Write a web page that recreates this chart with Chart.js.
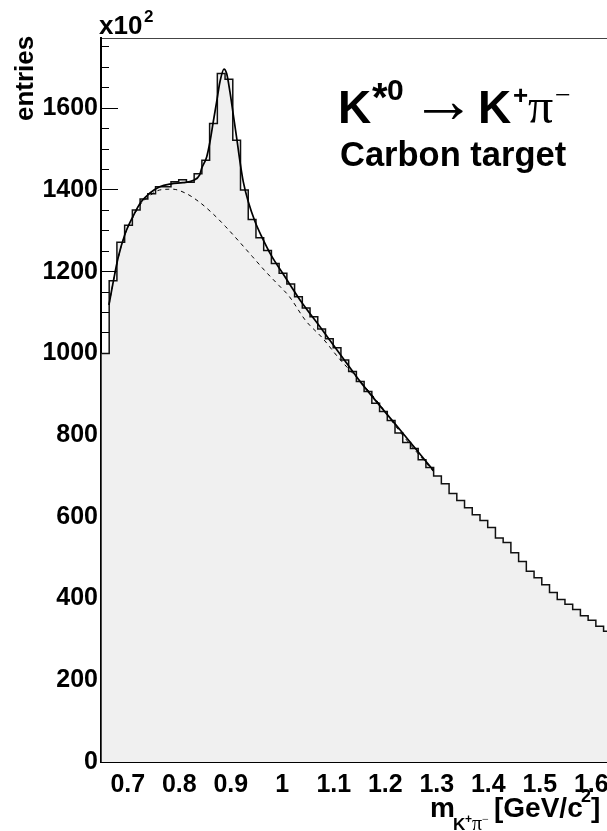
<!DOCTYPE html>
<html><head><meta charset="utf-8">
<script src="https://cdn.jsdelivr.net/npm/chart.js@4.4.1/dist/chart.umd.min.js"></script>
<style>
html,body{margin:0;padding:0;overflow:hidden;background:#fff;width:607px;height:831px}
#wrap{position:relative;width:690px;height:831px}
canvas{display:block}
</style></head>
<body><div id="wrap"><canvas id="c" width="690" height="831"></canvas></div>
<script>
// ---- data (entries in units of 10^2) ----
const binLow = 0.6489;      // lower edge of first bin [GeV/c^2]
const binWidth = 0.015;     // bin width [GeV/c^2]
const counts = [1000,1178,1272,1314,1351,1378,1391,1408,1408,1420,1425,1419,1440,1473,1563,1685,1671,1522,1400,1328,1283,1252,1220,1196,1170,1139,1111,1090,1060,1036,1014,984,956,931,907,878,858,836,805,782,767,740,721,700,681,657,640,622,605,591,574,548,537,512,491,467,451,434,415,398,386,373,358,347,332,320];

// full fit (signal + background)
const fitX = [0.6635,0.6713,0.681,0.694,0.710,0.726,0.7425,0.762,0.7845,0.807,0.8266,0.8396,0.8435,0.8532,0.8596,0.866,0.8726,0.879,0.8868,0.892,0.8984,0.9049,0.9115,0.9179,0.9243,0.934,0.947,0.96,0.9794,1.0014,1.0344,1.0764,1.1315,1.1514,1.2286,1.2932];
const fitY = [1119,1172,1233,1290,1335,1371,1392,1408,1415,1418,1423,1437,1453,1481,1518,1567,1616,1665,1696,1685,1640,1584,1527,1469,1420,1371,1323,1286,1238,1195,1131,1060,965,931,813,714];

// background only (dashed)
const bgX = [0.6635,0.6713,0.681,0.694,0.710,0.726,0.7425,0.762,0.7866,0.8125,0.8384,0.8643,0.8902,0.9161,0.942,0.9679,0.9938,1.0132,1.0456,1.0778,1.1101,1.1392,1.1813,1.2286,1.2932];
const bgY = [1119,1172,1232,1289,1333,1367,1386,1400,1402,1392,1371,1343,1310,1274,1237,1200,1166,1140,1080,1038,988,948,888,808,711];

const xTicks = [0.7,0.8,0.9,1.0,1.1,1.2,1.3,1.4,1.5,1.6,1.7];
const xTickLabels = ['0.7','0.8','0.9','1','1.1','1.2','1.3','1.4','1.5','1.6','1.7'];
const yTicks = [0,200,400,600,800,1000,1200,1400,1600];
const yTickLabels = ['0','200','400','600','800','1000','1200','1400','1600'];

const xMin = 0.648, xMax = 1.7917, yMax = 1772;

// ---- build datasets ----
const histPts = counts.map((c,i)=>({x: binLow + i*binWidth, y: c}));
histPts.push({x: binLow + counts.length*binWidth, y: counts[counts.length-1]});
const fitPts = fitX.map((x,i)=>({x, y: fitY[i]}));
const bgPts = bgX.map((x,i)=>({x, y: bgY[i]}));

const FONT = "'Liberation Sans', Arial, Helvetica, sans-serif";
const SERIF = "'Liberation Serif', 'DejaVu Serif', serif";

const textPlugin = {
  id: 'texts',
  afterDraw(chart) {
    const ctx = chart.ctx;
    ctx.save();
    ctx.fillStyle = '#000';
    ctx.textAlign = 'left';
    ctx.textBaseline = 'alphabetic';
    // x10^2
    ctx.font = "bold 26px " + FONT;
    ctx.fillText('x10', 99, 34);
    ctx.font = "bold 17px " + FONT;
    ctx.fillText('2', 144, 22);
    // entries (rotated)
    ctx.save();
    ctx.translate(33, 121);
    ctx.rotate(-Math.PI/2);
    ctx.font = "bold 26px " + FONT;
    ctx.fillText('entries', 0, 0);
    ctx.restore();
    // K*0 -> K+ pi-
    ctx.font = "bold 46px " + FONT;
    ctx.fillText('K', 338, 123);
    ctx.font = "bold 40px " + FONT;
    ctx.fillText('*', 372, 111);
    ctx.font = "bold 30px " + FONT;
    ctx.fillText('0', 387, 100);
    ctx.font = "65px " + SERIF;
    ctx.fillText('\u2192', 411, 122);
    ctx.font = "bold 46px " + FONT;
    ctx.fillText('K', 478, 123);
    ctx.font = "bold 26px " + FONT;
    ctx.fillText('+', 513, 104);
    ctx.font = "50px " + SERIF;
    ctx.fillText('\u03C0', 528, 123);
    ctx.font = "28px " + SERIF;
    ctx.fillText('\u2212', 555, 104);
    // Carbon target
    ctx.font = "bold 34.5px " + FONT;
    ctx.fillText('Carbon target', 340, 166);
    // x axis title  m_{K+pi-}[GeV/c^2]
    ctx.font = "bold 28px " + FONT;
    ctx.fillText('m', 430, 817);
    ctx.font = "bold 17px " + FONT;
    ctx.fillText('K', 453, 830);
    ctx.font = "bold 12px " + FONT;
    ctx.fillText('+', 465, 823);
    ctx.font = "20px " + SERIF;
    ctx.fillText('\u03C0', 472, 830);
    ctx.font = "12px " + SERIF;
    ctx.fillText('\u2212', 482, 823);
    ctx.font = "bold 28px " + FONT;
    ctx.fillText('[GeV/c', 494, 817);
    ctx.font = "bold 18px " + FONT;
    ctx.fillText('2', 581, 802);
    ctx.font = "bold 28px " + FONT;
    ctx.fillText(']', 591, 817);
    ctx.restore();
  }
};

const tickFont = {family: FONT, size: 25, weight: 'bold'};

new Chart(document.getElementById('c'), {
  type: 'line',
  data: {
    datasets: [
      {label:'fit', data: fitPts, borderColor:'#000', borderWidth:1.7, pointRadius:0, fill:false, cubicInterpolationMode:'monotone', order:1},
      {label:'background', data: bgPts, borderColor:'#000', borderWidth:1, borderDash:[4,4], pointRadius:0, fill:false, cubicInterpolationMode:'monotone', order:2},
      {label:'data', data: histPts, stepped:'before', borderColor:'#111', borderWidth:1.5, backgroundColor:'#f0f0f0', fill:'origin', pointRadius:0, order:3}
    ]
  },
  options: {
    responsive: false,
    devicePixelRatio: 1,
    animation: false,
    layout: {padding: 0},
    plugins: {legend:{display:false}, tooltip:{enabled:false}},
    scales: {
      x: {
        type:'linear', position:'bottom', min:xMin, max:xMax, z:1,
        afterBuildTicks: s => { s.ticks = xTicks.map(v=>({value:v})); },
        afterFit: s => { s.height = 69; },
        ticks: {autoSkip:false, maxRotation:0, padding:27, color:'#000', font:tickFont,
                callback: (v,i) => xTickLabels[i]},
        grid: {drawOnChartArea:false, drawTicks:true, tickLength:-19, color:'#000', lineWidth:1},
        border: {display:true, color:'#000', width:2}
      },
      xMinor: {
        type:'linear', position:{y:0}, min:xMin, max:xMax, z:1,
        ticks: {display:false, stepSize:0.02, includeBounds:false, autoSkip:false},
        grid: {drawOnChartArea:false, drawTicks:true, tickLength:-9, color:'#000', lineWidth:1},
        border: {display:false}
      },
      xTop: {
        type:'linear', position:'top', min:xMin, max:xMax, z:1,
        afterFit: s => { s.height = 38; },
        ticks: {display:false},
        grid: {display:false, drawTicks:false},
        border: {display:true, color:'#444', width:1}
      },
      y: {
        type:'linear', position:'left', min:0, max:yMax, z:1,
        afterBuildTicks: s => { s.ticks = yTicks.map(v=>({value:v})); },
        afterFit: s => { s.width = 101; },
        ticks: {autoSkip:false, padding:20, color:'#000', font:tickFont,
                callback: (v,i) => yTickLabels[i]},
        grid: {drawOnChartArea:false, drawTicks:true, tickLength:-17, color:'#000', lineWidth:1},
        border: {display:true, color:'#000', width:2}
      },
      yMinor: {
        type:'linear', position:{x:xMin}, min:0, max:yMax, z:1,
        ticks: {display:false, stepSize:50, includeBounds:false, autoSkip:false},
        grid: {drawOnChartArea:false, drawTicks:true, tickLength:-8, color:'#000', lineWidth:1},
        border: {display:false}
      }
    }
  },
  plugins: [textPlugin]
});
</script>
</body></html>
